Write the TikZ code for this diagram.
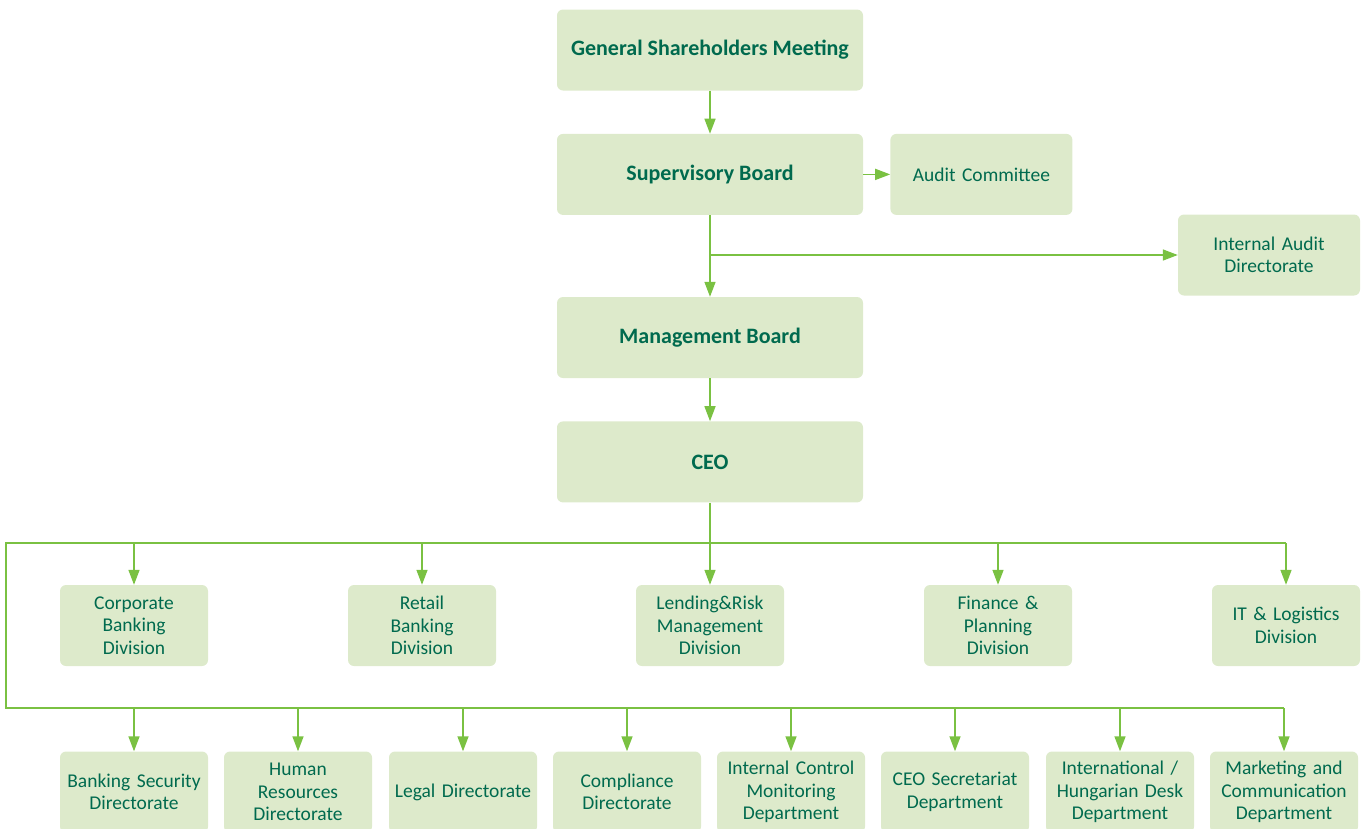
\documentclass[tikz,border=0pt]{standalone}
\usepackage{fontspec}
\setmainfont{Carlito}
\usetikzlibrary{arrows.meta, positioning}
\definecolor{boxfill}{RGB}{221, 234, 203}
\definecolor{boxtext}{RGB}{0, 106, 78}
\definecolor{link}{RGB}{122, 193, 66}

\begin{document}
\begin{tikzpicture}[
    x=1pt, y=-1pt,
    node distance=43pt and 27pt,
    board/.style={
        rectangle, rounded corners=6pt,
        minimum width=306pt, minimum height=81pt,
        align=center, fill=boxfill, text=boxtext,
        font=\fontsize{22}{24}\selectfont\bfseries
    },
    unit/.style={
        rectangle, rounded corners=6pt,
        minimum width=148pt, minimum height=81pt,
        text width=140pt, align=center,
        fill=boxfill, text=boxtext,
        font=\fontsize{19.5}{22.5}\selectfont
    },
    side/.style={
        unit, minimum width=182pt, text width=174pt
    },
    arrow/.style={
        -{Triangle[length=15pt, width=11pt]}, line width=1.5pt, draw=link
    },
    bus/.style={
        line width=1.5pt, draw=link
    }
]
\clip (0,0) rectangle (1364,828);
\useasboundingbox (0,0) rectangle (1364,828);

% Governing bodies
\node[board] (gsm) at (710, 50) {General Shareholders Meeting};
\node[board, below=of gsm] (sup) {Supervisory Board};
\node[side, right=of sup] (audit) {Audit Committee};
\node[side] (ia) at (1269, 255) {Internal Audit\\Directorate};
\node[board] (mgmt) at (710, 337.5) {Management Board};
\node[board, below=of mgmt] (ceo) {CEO};

% Divisions
\node[unit] (corp) at (134, 625.5) {Corporate\\Banking\\Division};
\node[unit] (retail) at (422, 625.5) {Retail\\Banking\\Division};
\node[unit] (risk) at (710, 625.5) {Lending\&Risk\\Management\\Division};
\node[unit] (fin) at (998, 625.5) {Finance \&\\Planning\\Division};
\node[unit] (it) at (1286, 625.5) {IT \& Logistics\\Division};

% Directorates and departments
\node[unit] (sec) at (134, 792) {Banking Security\\Directorate};
\node[unit] (hr) at (298, 792) {Human\\Resources\\Directorate};
\node[unit] (legal) at (463, 792) {Legal Directorate};
\node[unit] (comp) at (627, 792) {Compliance\\Directorate};
\node[unit] (icm) at (791, 792) {Internal Control\\Monitoring\\Department};
\node[unit] (ceosec) at (955, 792) {CEO Secretariat\\Department};
\node[unit] (desk) at (1120, 792) {International /\\Hungarian Desk\\Department};
\node[unit] (mkt) at (1284, 792) {Marketing and\\Communication\\Department};

% Bus lines
\coordinate (busA) at (6, 543);
\coordinate (busB) at (6, 708);

% Top arrows
\draw[arrow] (gsm) -- (sup);
\draw[arrow] (sup) -- (audit);
\draw[arrow] (sup) -- (mgmt);
\draw[arrow] (sup.south |- ia) -- (ia);
\draw[arrow] (mgmt) -- (ceo);

% Division bus
\draw[bus] (ceo) -- (ceo |- busA);
\draw[bus] (it |- busA) -- (busA) -- (busB) -- (mkt |- busB);
\draw[arrow] (corp |- busA) -- (corp);
\draw[arrow] (retail |- busA) -- (retail);
\draw[arrow] (risk |- busA) -- (risk);
\draw[arrow] (fin |- busA) -- (fin);
\draw[arrow] (it |- busA) -- (it);

% Directorate bus
\draw[arrow] (sec |- busB) -- (sec);
\draw[arrow] (hr |- busB) -- (hr);
\draw[arrow] (legal |- busB) -- (legal);
\draw[arrow] (comp |- busB) -- (comp);
\draw[arrow] (icm |- busB) -- (icm);
\draw[arrow] (ceosec |- busB) -- (ceosec);
\draw[arrow] (desk |- busB) -- (desk);
\draw[arrow] (mkt |- busB) -- (mkt);

\end{tikzpicture}
\end{document}
